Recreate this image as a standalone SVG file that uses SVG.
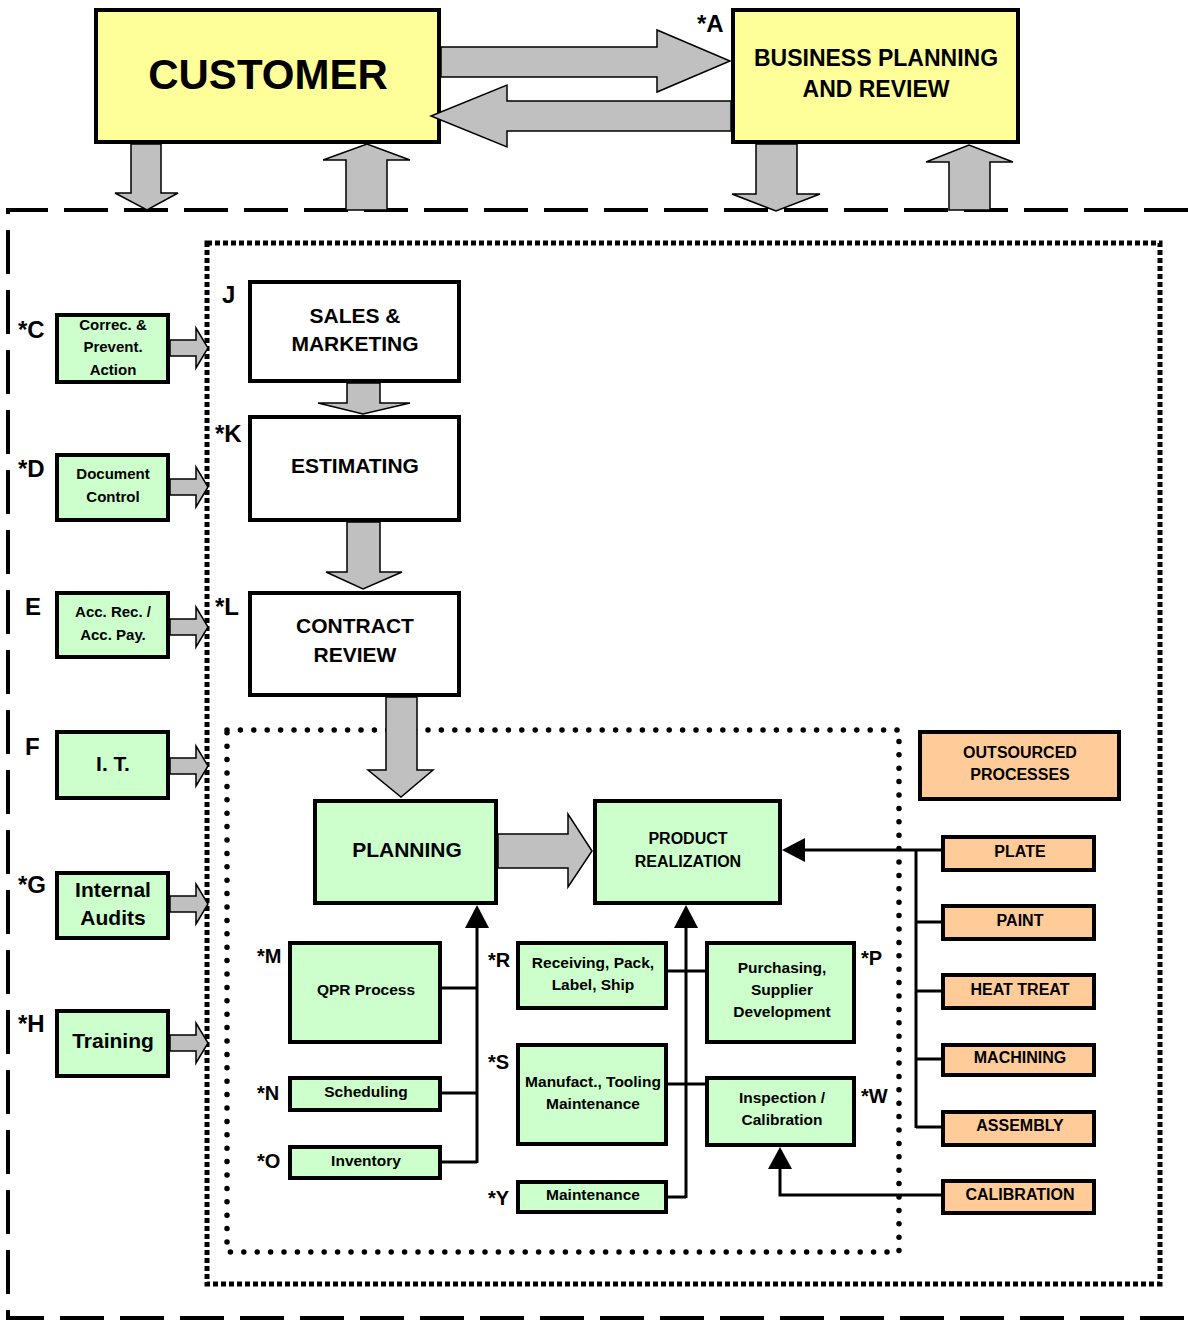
<svg xmlns="http://www.w3.org/2000/svg" width="1188" height="1321" viewBox="0 0 1188 1321">
<style>
text{font-family:"Liberation Sans",Arial,sans-serif;font-weight:bold;fill:#000;text-anchor:middle}
.lbl{text-anchor:start;font-size:24px}
.lbs{text-anchor:start;font-size:20px}
.box{stroke:#000;stroke-width:4}
.y{fill:#FFFF99}
.g{fill:#CCFFCC}
.o{fill:#FFCC99}
.w{fill:#FFFFFF}
.ba{fill:#C0C0C0;stroke:#000;stroke-width:1.5;stroke-linejoin:miter}
.ln{fill:none;stroke:#000;stroke-width:3}
.ah{fill:#000}
</style>
<rect width="1188" height="1321" fill="#fff"/>
<g id="frames">
<path d="M1188,210 H8 V1318 H1188" fill="none" stroke="#000" stroke-width="4" stroke-dasharray="44 16"/>
<rect x="207" y="243" width="953" height="1041" fill="none" stroke="#000" stroke-width="5" stroke-dasharray="5 3"/>
<rect x="227" y="730" width="672" height="522" fill="none" stroke="#000" stroke-width="5.5" stroke-linecap="round" stroke-dasharray="0 13.4"/>
</g>
<g id="customer"><rect class="box y" x="96" y="10" width="343" height="132"/><text x="268" y="89" font-size="42">CUSTOMER</text></g>
<g id="business-planning"><rect class="box y" x="733" y="10" width="285" height="132"/><text x="876" y="66" font-size="23">BUSINESS PLANNING</text><text x="876" y="97" font-size="23">AND REVIEW</text><text class="lbl" x="697" y="32">*A</text></g>
<g id="sales-marketing"><rect class="box w" x="250" y="282" width="209" height="99"/><text x="355" y="323" font-size="21">SALES &amp;</text><text x="355" y="351" font-size="21">MARKETING</text><text class="lbl" x="222" y="303">J</text></g>
<g id="estimating"><rect class="box w" x="250" y="417" width="209" height="103"/><text x="355" y="473" font-size="21">ESTIMATING</text><text class="lbl" x="215" y="442">*K</text></g>
<g id="contract-review"><rect class="box w" x="250" y="593" width="209" height="102"/><text x="355" y="633" font-size="21">CONTRACT</text><text x="355" y="662" font-size="21">REVIEW</text><text class="lbl" x="215" y="615">*L</text></g>
<g id="corrective"><rect class="box g" x="57" y="315" width="111" height="67"/><text x="113" y="330" font-size="15">Correc. &amp;</text><text x="113" y="352" font-size="15">Prevent.</text><text x="113" y="375" font-size="15">Action</text><text class="lbl" x="18" y="338">*C</text></g>
<g id="document-control"><rect class="box g" x="57" y="455" width="111" height="65"/><text x="113" y="479" font-size="15">Document</text><text x="113" y="502" font-size="15">Control</text><text class="lbl" x="18" y="477">*D</text></g>
<g id="accounts"><rect class="box g" x="57" y="593" width="111" height="64"/><text x="113" y="617" font-size="15">Acc. Rec. /</text><text x="113" y="640" font-size="15">Acc. Pay.</text><text class="lbl" x="25" y="615">E</text></g>
<g id="it"><rect class="box g" x="57" y="732" width="111" height="66"/><text x="113" y="771" font-size="21">I. T.</text><text class="lbl" x="25" y="755">F</text></g>
<g id="internal-audits"><rect class="box g" x="57" y="873" width="111" height="65"/><text x="113" y="897" font-size="21">Internal</text><text x="113" y="925" font-size="21">Audits</text><text class="lbl" x="18" y="893">*G</text></g>
<g id="training"><rect class="box g" x="57" y="1011" width="111" height="65"/><text x="113" y="1048" font-size="21">Training</text><text class="lbl" x="18" y="1032">*H</text></g>
<g id="planning"><rect class="box g" x="315" y="801" width="181" height="102"/><text x="407" y="857" font-size="21">PLANNING</text></g>
<g id="product-realization"><rect class="box g" x="595" y="801" width="185" height="102"/><text x="688" y="844" font-size="16">PRODUCT</text><text x="688" y="867" font-size="16">REALIZATION</text></g>
<g id="outsourced"><rect class="box o" x="920" y="732" width="199" height="67"/><text x="1020" y="758" font-size="16">OUTSOURCED</text><text x="1020" y="780" font-size="16">PROCESSES</text></g>
<g id="plate"><rect class="box o" x="943" y="837" width="151" height="33"/><text x="1020" y="857" font-size="16">PLATE</text></g>
<g id="paint"><rect class="box o" x="943" y="906" width="151" height="33"/><text x="1020" y="926" font-size="16">PAINT</text></g>
<g id="heat-treat"><rect class="box o" x="943" y="975" width="151" height="33"/><text x="1020" y="995" font-size="16">HEAT TREAT</text></g>
<g id="machining"><rect class="box o" x="943" y="1045" width="151" height="30"/><text x="1020" y="1063" font-size="16">MACHINING</text></g>
<g id="assembly"><rect class="box o" x="943" y="1112" width="151" height="33"/><text x="1020" y="1131" font-size="16">ASSEMBLY</text></g>
<g id="calibration"><rect class="box o" x="943" y="1181" width="151" height="32"/><text x="1020" y="1200" font-size="16">CALIBRATION</text></g>
<g id="qpr"><rect class="box g" x="290" y="943" width="150" height="99"/><text x="366" y="995" font-size="15.5">QPR Process</text><text class="lbs" x="257" y="963">*M</text></g>
<g id="scheduling"><rect class="box g" x="290" y="1078" width="150" height="32"/><text x="366" y="1097" font-size="15.5">Scheduling</text><text class="lbs" x="257" y="1100">*N</text></g>
<g id="inventory"><rect class="box g" x="290" y="1147" width="150" height="31"/><text x="366" y="1166" font-size="15.5">Inventory</text><text class="lbs" x="257" y="1168">*O</text></g>
<g id="receiving"><rect class="box g" x="518" y="943" width="148" height="65"/><text x="593" y="968" font-size="15.5">Receiving, Pack,</text><text x="593" y="990" font-size="15.5">Label, Ship</text><text class="lbs" x="488" y="967">*R</text></g>
<g id="manufact"><rect class="box g" x="518" y="1045" width="148" height="99"/><text x="593" y="1087" font-size="15.5">Manufact., Tooling</text><text x="593" y="1109" font-size="15.5">Maintenance</text><text class="lbs" x="488" y="1069">*S</text></g>
<g id="maintenance"><rect class="box g" x="518" y="1182" width="148" height="30"/><text x="593" y="1200" font-size="15.5">Maintenance</text><text class="lbs" x="488" y="1205">*Y</text></g>
<g id="purchasing"><rect class="box g" x="707" y="943" width="147" height="99"/><text x="782" y="973" font-size="15.5">Purchasing,</text><text x="782" y="995" font-size="15.5">Supplier</text><text x="782" y="1017" font-size="15.5">Development</text><text class="lbs" x="861" y="965">*P</text></g>
<g id="inspection"><rect class="box g" x="707" y="1078" width="147" height="67"/><text x="782" y="1103" font-size="15.5">Inspection /</text><text x="782" y="1125" font-size="15.5">Calibration</text><text class="lbs" x="861" y="1103">*W</text></g>
<g id="connectors">
<polygon class="ba" points="441,47 657,47 657,30 730,61 657,92 657,77 441,77"/>
<polygon class="ba" points="731,101 507,101 507,85 431,116 507,147 507,131 731,131"/>
<polygon class="ba" points="131,144 161,144 161,193 178,193 147,210 115,193 131,193"/>
<polygon class="ba" points="346,210 346,160 323,160 367,144 410,160 387,160 387,210"/>
<polygon class="ba" points="756,144 797,144 797,194 820,194 776,211 732,194 756,194"/>
<polygon class="ba" points="949,210 949,162 926,162 969,145 1013,162 990,162 990,210"/>
<polygon class="ba" points="347,383 380,383 380,403 410,403 363,414 318,403 347,403"/>
<polygon class="ba" points="347,522 380,522 380,572 402,572 363,589 326,572 347,572"/>
<polygon class="ba" points="386,697 417,697 417,770 433,770 401,797 368,770 386,770"/>
<polygon class="ba" points="498,834 568,834 568,814 592,851 568,887 568,868 498,868"/>
<polygon class="ba" points="170,340 196,340 196,328 208,348 196,368 196,356 170,356"/>
<polygon class="ba" points="170,479 196,479 196,467 208,487 196,507 196,495 170,495"/>
<polygon class="ba" points="170,619 196,619 196,607 208,627 196,647 196,635 170,635"/>
<polygon class="ba" points="170,758 196,758 196,746 208,766 196,786 196,774 170,774"/>
<polygon class="ba" points="170,896 196,896 196,884 208,904 196,924 196,912 170,912"/>
<polygon class="ba" points="170,1035 196,1035 196,1023 208,1043 196,1063 196,1051 170,1051"/>
<path class="ln" d="M477,1163 V926 M442,988 H477 M442,1093 H477 M442,1162 H477"/>
<polygon class="ah" points="477,905 465,928 489,928"/>
<path class="ln" d="M686,1198 V926 M668,971 H705 M668,1084 H705 M668,1197 H686"/>
<polygon class="ah" points="686,905 674,928 698,928"/>
<path class="ln" d="M941,850 H803 M916,850 V1128 M916,922 H941 M916,991 H941 M916,1059 H941 M916,1127 H941"/>
<polygon class="ah" points="782,850 805,838 805,862"/>
<path class="ln" d="M941,1195 H780 V1167"/>
<polygon class="ah" points="780,1147 768,1169 792,1169"/>
</g>
</svg>
